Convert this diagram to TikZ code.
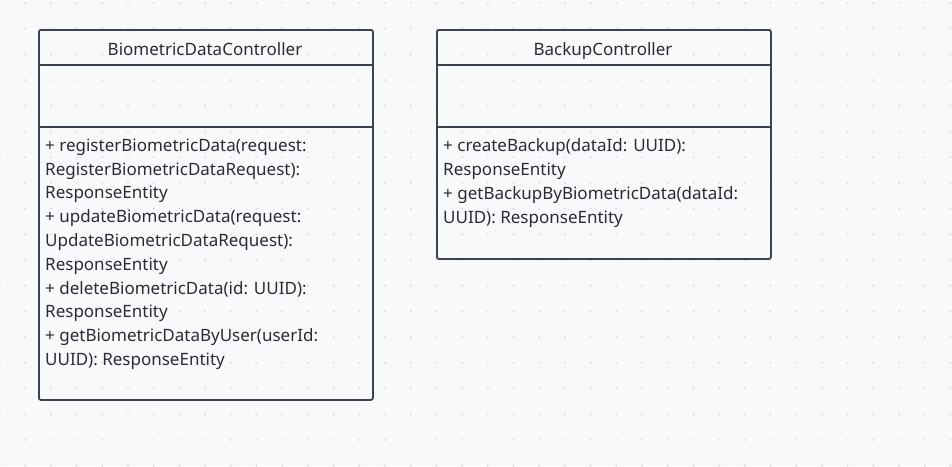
\documentclass[tikz,border=0pt]{standalone}
\usepackage{fontspec}
\setmainfont{Noto Sans}
\usepackage{tikz}
\definecolor{canvas_bg}{RGB}{248, 249, 251}
\definecolor{grid_dot}{RGB}{218, 221, 226}
\definecolor{uml_line}{RGB}{58, 66, 80}
\definecolor{uml_text}{RGB}{40, 44, 52}

\begin{document}
\begin{tikzpicture}[x=1pt, y=-1pt,
    classbox/.style={draw=uml_line, line width=1.8pt, rounded corners=2pt, inner sep=0pt, anchor=north west},
    divider/.style={draw=uml_line, line width=1.8pt},
    classname/.style={text=uml_text, inner sep=0pt, anchor=base, font=\fontsize{17}{20}\selectfont},
    opstext/.style={text=uml_text, inner sep=0pt, anchor=north west, align=left, font=\fontsize{17}{23.8}\selectfont}]

    % Canvas
    \fill[canvas_bg] (0,0) rectangle (952,466);
    \useasboundingbox (0,0) rectangle (952,466);

    % Dot grid
    \foreach \i in {0,...,37} {
      \foreach \j in {0,...,18} {
        \fill[grid_dot] (25.7*\i-0.5, 3+25.7*\j) circle (1.2pt);
      }
    }

    % BiometricDataController
    \node[classbox, minimum width=334pt, minimum height=370pt] (bio) at (38,29) {};
    \node[classname] (bioname) at (205,55) {BiometricDataController};
    \draw[divider] (bio.north west) ++(0,36) -- ++(334,0);
    \draw[divider] (bio.north west) ++(0,98) -- ++(334,0);
    \node[opstext] (bioops) at (45,138.5) {
      + registerBiometricData(request:\\
      RegisterBiometricDataRequest):\\
      ResponseEntity\\
      + updateBiometricData(request:\\
      UpdateBiometricDataRequest):\\
      ResponseEntity\\
      + deleteBiometricData(id: UUID):\\
      ResponseEntity\\
      + getBiometricDataByUser(userId:\\
      UUID): ResponseEntity
    };

    % BackupController
    \node[classbox, minimum width=334pt, minimum height=229pt] (backup) at (436,29) {};
    \node[classname] (backupname) at (603,55) {BackupController};
    \draw[divider] (backup.north west) ++(0,36) -- ++(334,0);
    \draw[divider] (backup.north west) ++(0,98) -- ++(334,0);
    \node[opstext] (backupops) at (443,138.5) {
      + createBackup(dataId: UUID):\\
      ResponseEntity\\
      + getBackupByBiometricData(dataId:\\
      UUID): ResponseEntity
    };

\end{tikzpicture}
\end{document}
